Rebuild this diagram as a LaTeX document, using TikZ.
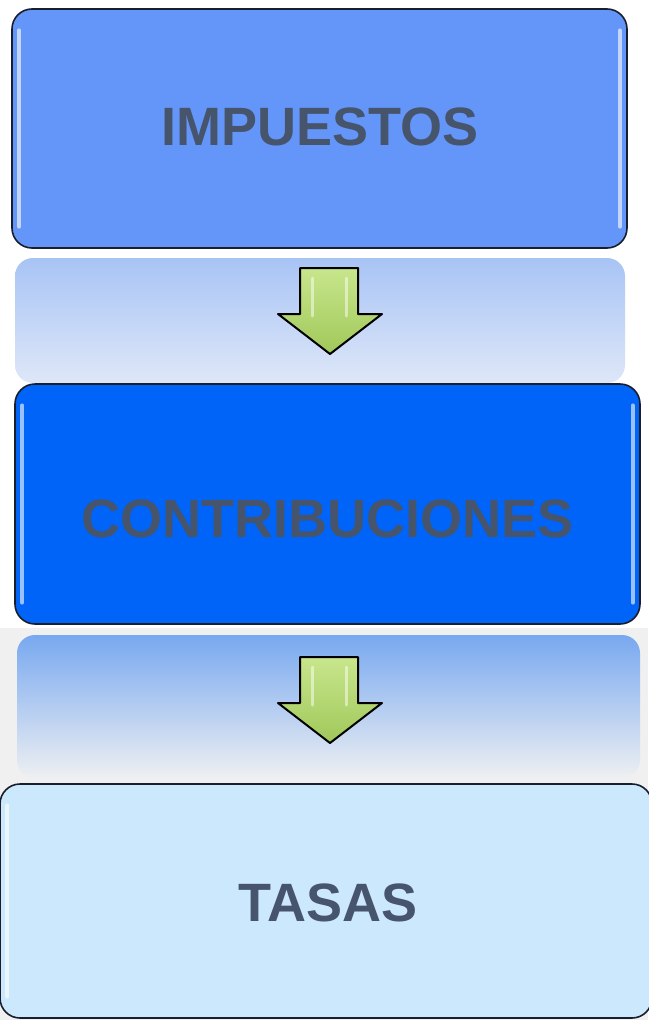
\documentclass[tikz,border=0pt]{standalone}
\usepackage{fontspec}
\setmainfont{Liberation Sans}
\usetikzlibrary{shapes.misc,calc}
\definecolor{txt}{RGB}{70,84,108}
\definecolor{boxA}{RGB}{100,150,250}
\definecolor{boxB}{RGB}{0,100,248}
\definecolor{boxC}{RGB}{204,232,252}
\definecolor{panAtop}{RGB}{168,196,245}
\definecolor{panAbot}{RGB}{222,231,248}
\definecolor{panBtop}{RGB}{120,168,240}
\definecolor{panBbot}{RGB}{238,240,242}
\definecolor{arrtop}{RGB}{200,230,140}
\definecolor{arrbot}{RGB}{160,200,90}
\definecolor{bg}{RGB}{240,240,240}
\definecolor{edge}{RGB}{25,30,45}
\tikzset{
  stagebox/.style={rounded corners=20pt, draw=edge, line width=1.6pt,
    minimum width=#1, inner sep=0pt},
  stagetext/.style={inner sep=0pt, font=\bfseries\fontsize{54}{60}\selectfont, text=txt},
  panelbox/.style={rounded corners=18pt, draw=none, inner sep=0pt},
  gloss/.style={white, opacity=0.6, line width=3.5pt, line cap=round},
  blockarrow/.style={draw=black, line width=2pt, line join=round, top color=arrtop, bottom color=arrbot, shading angle=0}
}
\begin{document}
\begin{tikzpicture}[x=1pt,y=-1pt]
\useasboundingbox (0,0) rectangle (648,1020);
\fill[white] (0,0) rectangle (648,1020);
\fill[bg] (0,628) rectangle (648,1020);
% panels (connector backgrounds)
\node[panelbox, minimum width=610pt, minimum height=125pt, top color=panAtop, bottom color=panAbot] (p1) at (320,320.5) {};
\node[panelbox, minimum width=623pt, minimum height=143pt, top color=panBtop, bottom color=panBbot] (p2) at (328.5,706.5) {};
% boxes
\node[stagebox=615pt, minimum height=239pt, fill=boxA] (b1) at (319.5,128.5) {};
\node[stagebox=625pt, minimum height=240pt, fill=boxB] (b2) at (327.5,504) {};
\node[stagebox=652pt, minimum height=234pt, fill=boxC] (b3) at (326,901) {};
\node[stagetext] (t1) at (320,127) {IMPUESTOS};
\node[stagetext] (t2) at (328,519) {CONTRIBUCIONES};
\node[stagetext] (t3) at (328,903) {TASAS};
% gloss strips
\draw[gloss] ([xshift=8pt,yshift=-22pt]b1.north west) -- ([xshift=8pt,yshift=22pt]b1.south west);
\draw[gloss] ([xshift=-8pt,yshift=-22pt]b1.north east) -- ([xshift=-8pt,yshift=22pt]b1.south east);
\draw[gloss] ([xshift=8pt,yshift=-22pt]b2.north west) -- ([xshift=8pt,yshift=22pt]b2.south west);
\draw[gloss] ([xshift=-8pt,yshift=-22pt]b2.north east) -- ([xshift=-8pt,yshift=22pt]b2.south east);
\draw[gloss] ([xshift=8pt,yshift=-22pt]b3.north west) -- ([xshift=8pt,yshift=22pt]b3.south west);
% arrows
\coordinate (a1) at (330,268);
\coordinate (a2) at (330,657);
\foreach \a in {a1,a2}{
  \draw[blockarrow] ($(\a)+(-30,0)$) -- ($(\a)+(28,0)$) -- ($(\a)+(28,46)$) -- ($(\a)+(52,46)$)
     -- ($(\a)+(0,86)$) -- ($(\a)+(-52,46)$) -- ($(\a)+(-30,46)$) -- cycle;
  \draw[white, opacity=0.5, line width=3pt, line cap=round] ($(\a)+(-18,10)$) -- ($(\a)+(-18,48)$);
  \draw[white, opacity=0.5, line width=3pt, line cap=round] ($(\a)+(16,10)$) -- ($(\a)+(16,48)$);
}
\end{tikzpicture}
\end{document}
